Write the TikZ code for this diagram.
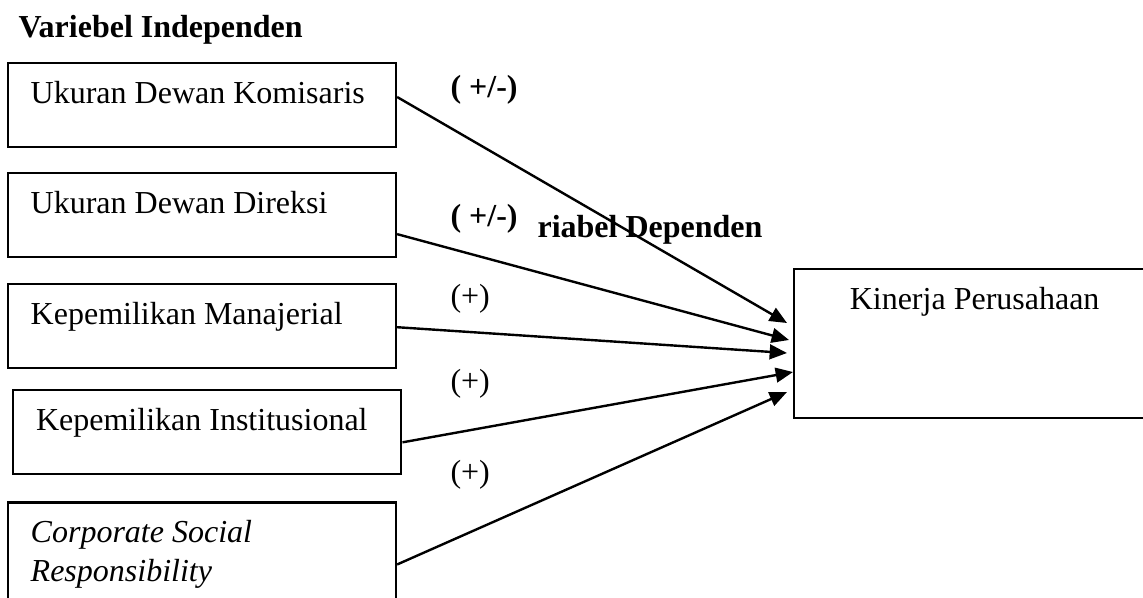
\documentclass[tikz,border=0pt,12pt]{standalone}
\usepackage{fontspec}
\setmainfont{Liberation Serif}
\usetikzlibrary{arrows.meta, positioning}
\tikzset{
        varbox/.style={rectangle, draw, line width=0.8pt, text width=128.5pt, inner xsep=8.5pt, inner ysep=0pt, align=flush left, text height=15pt, text depth=16.5pt},
        depbox/.style={rectangle, draw, line width=0.8pt, minimum width=135.4pt, inner ysep=0pt, text height=15pt, text depth=40.9pt},
        arrow/.style={-{Triangle[length=6.5pt, width=5.5pt]}, line width=0.9pt},
        sign/.style={anchor=base west, inner sep=0pt},
        heading/.style={anchor=base west, inner sep=0pt, font=\bfseries},
    }
\begin{document}
\begin{tikzpicture}[x=0.375pt, y=-0.375pt]
        \useasboundingbox (0,0) rectangle (1143,597);
        \clip (0,0) rectangle (1143,597);

        % === VARIABEL INDEPENDEN ===
        \node[heading] (indep) at (18,37) {Variebel Independen};
        \node[varbox, anchor=north west] (komisaris) at (7,62) {Ukuran Dewan Komisaris};
        \node[varbox, below=9pt of komisaris] (direksi) {Ukuran Dewan Direksi};
        \node[varbox, below=9.35pt of direksi] (manajerial) {Kepemilikan Manajerial};
        \node[varbox, below=7.5pt of manajerial, xshift=2pt] (institusi) {Kepemilikan Institusional};
        % box runs past the lower edge
        \node[varbox, below=9.75pt of institusi, xshift=-2pt, font=\itshape, text depth=26pt] (csr) {Corporate Social\\Responsibility};

        % === VARIABEL DEPENDEN ===
        \node[heading] (dep) at (537,237) {riabel Dependen};
        \node[depbox, anchor=north west] (kinerja) at (793,268) {Kinerja Perusahaan};

        % signs of the effects
        \node[sign, font=\bfseries] (skomisaris) at (450,97) {( +/-)};
        \node[sign, font=\bfseries] (sdireksi) at (450,226) {( +/-)};
        \node[sign] (smanajerial) at (450,306) {(+)};
        \node[sign] (sinstitusi) at (450,391) {(+)};
        \node[sign] (scsr) at (450,482) {(+)};

        \draw[arrow] ([shift={(0,35)}]komisaris.north east) -- ([shift={(-6,55)}]kinerja.north west);
        \draw[arrow] ([shift={(0,62)}]direksi.north east) -- ([shift={(-4,72)}]kinerja.north west);
        \draw[arrow] ([shift={(0,44)}]manajerial.north east) -- ([shift={(-6,85)}]kinerja.north west);
        \draw[arrow] ([shift={(0,53)}]institusi.north east) -- ([shift={(0,104)}]kinerja.north west);
        \draw[arrow] ([shift={(0,63)}]csr.north east) -- ([shift={(-6,124)}]kinerja.north west);

    \end{tikzpicture}
\end{document}
